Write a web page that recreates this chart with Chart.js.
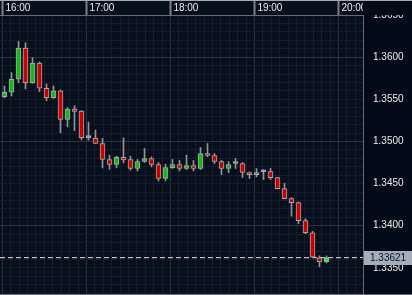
<!DOCTYPE html>
<html>
<head>
<meta charset="utf-8">
<script src="https://cdn.jsdelivr.net/npm/chart.js@4.4.1/dist/chart.umd.min.js"></script>
<style>
  body { margin: 0; background: #030a17; }
  #wrap { width: 412px; height: 293px; border-top: 1px solid #a3aab3; border-bottom: 1px solid #656c77; }
  canvas { display: block; }
</style>
</head>
<body>
<div id="wrap"><canvas id="chart" width="412" height="293"></canvas></div>
<script>
// 5 minute bars
const times = ['16:00', '16:05', '16:10', '16:15', '16:20', '16:25', '16:30', '16:35', '16:40', '16:45',
    '16:50', '16:55', '17:00', '17:05', '17:10', '17:15', '17:20', '17:25', '17:30', '17:35',
    '17:40', '17:45', '17:50', '17:55', '18:00', '18:05', '18:10', '18:15', '18:20', '18:25',
    '18:30', '18:35', '18:40', '18:45', '18:50', '18:55', '19:00', '19:05', '19:10', '19:15',
    '19:20', '19:25', '19:30', '19:35', '19:40', '19:45', '19:50'];
const opens = [1.35531, 1.35583, 1.35738, 1.36107, 1.35698, 1.35929, 1.35631, 1.35519, 1.35599, 1.35262,
    1.35385, 1.35361, 1.35045, 1.35039, 1.34976, 1.34786, 1.34726, 1.34810, 1.34786, 1.34679,
    1.34762, 1.34798, 1.34726, 1.34560, 1.34690, 1.34726, 1.34679, 1.34714, 1.34679, 1.34857,
    1.34833, 1.34762, 1.34679, 1.34738, 1.34738, 1.34631, 1.34607, 1.34638, 1.34643, 1.34571,
    1.34440, 1.34321, 1.34274, 1.34060, 1.33917, 1.33619, 1.33571];
const highs = [1.35658, 1.35817, 1.36186, 1.36170, 1.35995, 1.35944, 1.35682, 1.35658, 1.35611, 1.35400,
    1.35424, 1.35367, 1.35230, 1.35135, 1.35036, 1.34837, 1.34825, 1.35043, 1.34825, 1.34786,
    1.34917, 1.34817, 1.34750, 1.34730, 1.34786, 1.34774, 1.34837, 1.34774, 1.34929, 1.34976,
    1.34857, 1.34774, 1.34762, 1.34798, 1.34750, 1.34638, 1.34679, 1.34667, 1.34679, 1.34574,
    1.34504, 1.34333, 1.34281, 1.34083, 1.33933, 1.33643, 1.33643];
const lows = [1.35519, 1.35539, 1.35698, 1.35623, 1.35690, 1.35590, 1.35483, 1.35512, 1.35102, 1.35174,
    1.35126, 1.35019, 1.35015, 1.34974, 1.34686, 1.34670, 1.34686, 1.34745, 1.34658, 1.34650,
    1.34750, 1.34698, 1.34531, 1.34531, 1.34679, 1.34650, 1.34667, 1.34650, 1.34667, 1.34817,
    1.34738, 1.34607, 1.34631, 1.34679, 1.34571, 1.34560, 1.34579, 1.34548, 1.34548, 1.34438,
    1.34319, 1.34114, 1.34024, 1.33905, 1.33623, 1.33515, 1.33560];
const closes = [1.35583, 1.35738, 1.36107, 1.35698, 1.35929, 1.35631, 1.35519, 1.35599, 1.35262, 1.35385,
    1.35357, 1.35045, 1.35045, 1.34976, 1.34786, 1.34726, 1.34810, 1.34781, 1.34679, 1.34762,
    1.34798, 1.34726, 1.34560, 1.34690, 1.34726, 1.34679, 1.34714, 1.34679, 1.34857, 1.34833,
    1.34762, 1.34679, 1.34726, 1.34738, 1.34631, 1.34607, 1.34631, 1.34638, 1.34571, 1.34440,
    1.34321, 1.34274, 1.34060, 1.33917, 1.33626, 1.33571, 1.33621];

// axis settings
const hourLabels = ['16:00', '17:00', '18:00', '19:00', '20:00'];
const priceMin = 1.3319;
const priceMax = 1.3650;
const xMin = -3.214;          // minutes from 16:00
const xMax = 256.07;
const gridShift = -1.5;       // hour lines sit a little before the bar centre

const lastPrice = closes[closes.length - 1];
const fontSpec = { family: '"Liberation Sans", Arial, sans-serif', size: 10 };

function toMinutes(t) {
    const [h, m] = t.split(':').map(Number);
    return (h - 16) * 60 + m;
}

function candleColor(i) {
    if (i === closes.length - 1) return '#22f022';
    if (closes[i] > opens[i]) return '#16b916';
    if (closes[i] < opens[i]) return '#c80000';
    return '#a0a0a0';
}

// grid every 6 minutes, labels on the hour
const xGrid = [];
for (let k = 0; k <= 42; k++) xGrid.push(gridShift + k * 6);
const isHour = v => Math.abs((v - gridShift) % 60) < 1e-6;

// price grid every 0.001
const yGrid = [];
for (let k = 1332; k <= 1365; k++) yGrid.push(k / 1000);

const bodies = times.map((t, i) => ({ x: toMinutes(t), y: [opens[i], closes[i]] }));
const wicks = times.map((t, i) => ({ x: toMinutes(t), y: [lows[i], highs[i]] }));

const frame = {
    id: 'frame',
    beforeDraw(chart) {
        const { ctx, chartArea } = chart;
        ctx.save();
        ctx.fillStyle = '#070e1c';
        ctx.fillRect(0, 0, chartArea.right, chartArea.bottom);
        ctx.restore();
    },
    afterDraw(chart) {
        const { ctx, chartArea, scales } = chart;
        ctx.save();
        // hide what spills over the price axis corner
        ctx.fillStyle = '#030a17';
        ctx.fillRect(chartArea.right, 0, chart.width - chartArea.right, chartArea.top);
        // last price tag
        const y = Math.round(scales.y.getPixelForValue(lastPrice));
        ctx.fillStyle = '#a4aebb';
        ctx.fillRect(chartArea.right + 1, y - 7, chart.width - chartArea.right, 14);
        ctx.fillStyle = '#08101e';
        ctx.font = '10px "Liberation Sans", Arial, sans-serif';
        ctx.textBaseline = 'middle';
        ctx.fillText(lastPrice.toFixed(5), chartArea.right + 7, y + 0.5);
        ctx.restore();
    }
};

new Chart(document.getElementById('chart'), {
    type: 'bar',
    data: {
        datasets: [
            {
                type: 'line',
                data: [{ x: xMin, y: lastPrice }, { x: xMax, y: lastPrice }],
                borderColor: '#e8e8e8',
                borderWidth: 1,
                borderDash: [5, 3],
                pointRadius: 0,
                order: 3
            },
            {
                data: wicks,
                backgroundColor: '#8f949c',
                borderWidth: 0,
                barThickness: 1,
                grouped: false,
                order: 2
            },
            {
                data: bodies,
                backgroundColor: ctx => candleColor(ctx.dataIndex),
                borderColor: '#a8a8a8',
                borderWidth: 1,
                borderSkipped: false,
                barThickness: 5,
                minBarLength: 2,
                grouped: false,
                order: 1
            }
        ]
    },
    options: {
        responsive: false,
        animation: false,
        layout: { padding: 0 },
        plugins: { legend: { display: false }, tooltip: { enabled: false } },
        scales: {
            x: {
                type: 'linear',
                position: 'top',
                min: xMin,
                max: xMax,
                offset: false,
                afterBuildTicks: scale => { scale.ticks = xGrid.map(v => ({ value: v })); },
                afterFit: scale => {
                    scale.height = 14;
                    scale.paddingLeft = 0;
                    scale.paddingRight = 0;
                },
                ticks: {
                    autoSkip: false,
                    maxRotation: 0,
                    align: 'start',
                    labelOffset: 3,
                    padding: -13,
                    color: '#ececec',
                    font: fontSpec,
                    callback: v => isHour(v) ? hourLabels[Math.round((v - gridShift) / 60)] : ''
                },
                grid: {
                    offset: false,
                    color: ctx => isHour(ctx.tick.value) ? '#2b3341' : '#151d2b',
                    tickLength: 14,
                    tickWidth: 2,
                    tickColor: ctx => isHour(ctx.tick.value) ? '#7b838f' : 'rgba(0,0,0,0)'
                },
                border: { color: '#656c77', width: 1 }
            },
            y: {
                position: 'right',
                min: priceMin,
                max: priceMax,
                beginAtZero: false,
                afterBuildTicks: scale => { scale.ticks = yGrid.map(v => ({ value: v })); },
                afterFit: scale => {
                    scale.width = 49;
                    scale.paddingTop = 0;
                    scale.paddingBottom = 0;
                },
                ticks: {
                    autoSkip: false,
                    padding: 10,
                    color: '#ececec',
                    font: fontSpec,
                    callback: v => Math.round(v * 1000) % 5 === 0 ? v.toFixed(4) : ''
                },
                grid: {
                    drawTicks: false,
                    color: ctx => Math.round(ctx.tick.value * 1000) % 10 === 0 ? '#2b3341' : '#151d2b'
                },
                border: { color: '#656c77', width: 1 }
            }
        }
    },
    plugins: [frame]
});
</script>
</body>
</html>
